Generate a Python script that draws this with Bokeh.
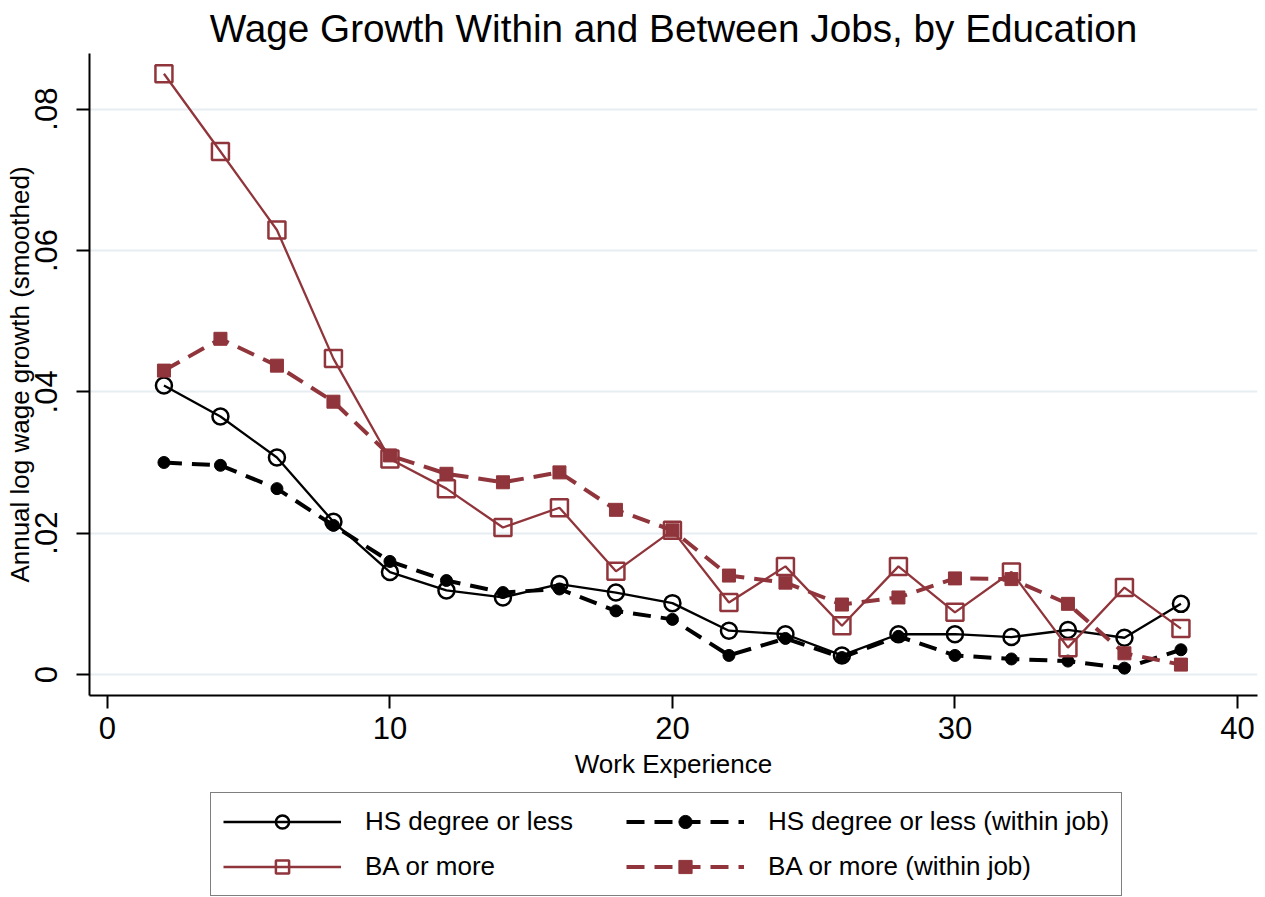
from bokeh.plotting import figure
from bokeh.layouts import column
from bokeh.models import Range1d, FixedTicker, Legend, LegendItem, CustomJSTickFormatter
from bokeh.embed import file_html
from bokeh.resources import INLINE

# ---------------- data ----------------
experience = [2, 4, 6, 8, 10, 12, 14, 16, 18, 20, 22, 24, 26, 28, 30, 32, 34, 36, 38]
hs_total = [0.0409, 0.0365, 0.0307, 0.0216, 0.0145, 0.0119, 0.0109, 0.0128, 0.0116, 0.0101,
            0.0062, 0.0057, 0.0027, 0.0057, 0.0057, 0.0053, 0.0063, 0.0052, 0.0100]
hs_within = [0.0300, 0.0296, 0.0263, 0.0211, 0.0160, 0.0133, 0.0116, 0.0121, 0.0090, 0.0078,
             0.0027, 0.0051, 0.0024, 0.0054, 0.0027, 0.0022, 0.0019, 0.0009, 0.0035]
ba_total = [0.0850, 0.0740, 0.0629, 0.0447, 0.0305, 0.0263, 0.0208, 0.0236, 0.0146, 0.0204,
            0.0102, 0.0153, 0.0069, 0.0153, 0.0088, 0.0145, 0.0038, 0.0123, 0.0065]
ba_within = [0.0430, 0.0475, 0.0437, 0.0386, 0.0310, 0.0284, 0.0272, 0.0286, 0.0233, 0.0204,
             0.0140, 0.0130, 0.0099, 0.0109, 0.0136, 0.0135, 0.0100, 0.0030, 0.0014]

series_labels = ["HS degree or less", "HS degree or less (within job)",
                 "BA or more", "BA or more (within job)"]
x_ticks = [0, 10, 20, 30, 40]
y_ticks = [0, 0.02, 0.04, 0.06, 0.08]

FONT = "Liberation Sans"
RED = "#90353b"

p = figure(width=1260, height=790, output_backend="svg", toolbar_location=None,
           x_range=Range1d(-0.635, 40.71), y_range=Range1d(-0.00297, 0.08787),
           min_border_left=89, min_border_right=3, min_border_top=53, min_border_bottom=95)

p.title.text = "Wage Growth Within and Between Jobs, by Education"
p.title.align = "center"
p.title.text_font = FONT
p.title.text_font_size = "38.7px"
p.title.text_font_style = "normal"
p.title.text_color = "black"
p.title.standoff = 8

p.outline_line_color = None
p.background_fill_color = "white"
p.border_fill_color = "white"

p.xgrid.visible = False
p.ygrid.grid_line_color = "#e6eef1"
p.ygrid.grid_line_width = 2

p.xaxis.ticker = FixedTicker(ticks=x_ticks)
p.yaxis.ticker = FixedTicker(ticks=y_ticks)
p.yaxis.formatter = CustomJSTickFormatter(
    code="return tick == 0 ? '0' : tick.toFixed(2).replace(/^0/, '');")
p.xaxis.axis_label = "Work Experience"
p.yaxis.axis_label = "Annual log wage growth (smoothed)"
p.yaxis.major_label_orientation = "vertical"

for ax in (p.xaxis, p.yaxis):
    ax.axis_line_width = 2
    ax.axis_line_color = "black"
    ax.major_tick_line_width = 2
    ax.major_tick_line_color = "black"
    ax.major_tick_out = 13
    ax.major_tick_in = 0
    ax.minor_tick_line_color = None
    ax.major_label_text_font = FONT
    ax.major_label_text_font_size = "31px"
    ax.major_label_text_color = "black"
    ax.axis_label_text_font = FONT
    ax.axis_label_text_font_size = "26px"
    ax.axis_label_text_font_style = "normal"
    ax.axis_label_text_color = "black"

p.xaxis.major_label_standoff = 8
p.xaxis.axis_label_standoff = 7
p.yaxis.major_label_standoff = 19
p.yaxis.axis_label_standoff = -2

SOLID_W = 2.3
DASH_W = 4
DASH = "18 10"

# HS degree or less
l1 = p.line(experience, hs_total, line_color="black", line_width=SOLID_W)
m1 = p.scatter(experience, hs_total, marker="circle", size=16, line_color="black",
               line_width=2.5, fill_alpha=0)
# HS within
l2 = p.line(experience, hs_within, line_color="black", line_width=DASH_W, line_dash=DASH)
m2 = p.scatter(experience, hs_within, marker="circle", size=12, line_color="black",
               fill_color="black")
# BA or more
l3 = p.line(experience, ba_total, line_color=RED, line_width=SOLID_W)
m3 = p.scatter(experience, ba_total, marker="square", size=17, line_color=RED,
               line_width=2.5, fill_alpha=0)
# BA within
l4 = p.line(experience, ba_within, line_color=RED, line_width=DASH_W, line_dash=DASH)
m4 = p.scatter(experience, ba_within, marker="square", size=13, line_color=RED,
               fill_color=RED)

# ---------- legend panel (a second figure below the chart) ----------
# the same series are drawn here, but outside this panel's visible range,
# so only their legend swatches show.
q = figure(width=1260, height=107, output_backend="svg", toolbar_location=None,
           x_range=Range1d(100, 101), y_range=Range1d(100, 101),
           x_axis_location=None, y_axis_location=None,
           min_border_left=89, min_border_right=3, min_border_top=0, min_border_bottom=0)
q.outline_line_color = None
q.xgrid.visible = False
q.ygrid.visible = False
q.title.visible = False

g1l = q.line(experience, hs_total, line_color="black", line_width=SOLID_W)
g1m = q.scatter(experience, hs_total, marker="circle", size=16, line_color="black",
                line_width=2.5, fill_alpha=0)
g2l = q.line(experience, hs_within, line_color="black", line_width=DASH_W, line_dash=DASH)
g2m = q.scatter(experience, hs_within, marker="circle", size=12, line_color="black",
                fill_color="black")
g3l = q.line(experience, ba_total, line_color=RED, line_width=SOLID_W)
g3m = q.scatter(experience, ba_total, marker="square", size=17, line_color=RED,
                line_width=2.5, fill_alpha=0)
g4l = q.line(experience, ba_within, line_color=RED, line_width=DASH_W, line_dash=DASH)
g4m = q.scatter(experience, ba_within, marker="square", size=13, line_color=RED,
                fill_color=RED)

# legend is filled column by column: first column HS / BA, second column within-job
items = [
    LegendItem(label=series_labels[0], renderers=[g1l, g1m]),
    LegendItem(label=series_labels[2], renderers=[g3l, g3m]),
    LegendItem(label=series_labels[1], renderers=[g2l, g2m]),
    LegendItem(label=series_labels[3], renderers=[g4l, g4m]),
]
legend = Legend(items=items, location=(121, 1), ncols=2,
                glyph_width=118, glyph_height=33, label_standoff=24, label_width=249,
                spacing=12, padding=12, margin=0,
                label_text_font=FONT, label_text_font_size="26px", label_text_color="black",
                border_line_color="black", border_line_width=1.5,
                background_fill_color="white")
q.add_layout(legend, "center")

layout = column(p, q, spacing=0)
open("out.html", "w").write(file_html(layout, INLINE))
